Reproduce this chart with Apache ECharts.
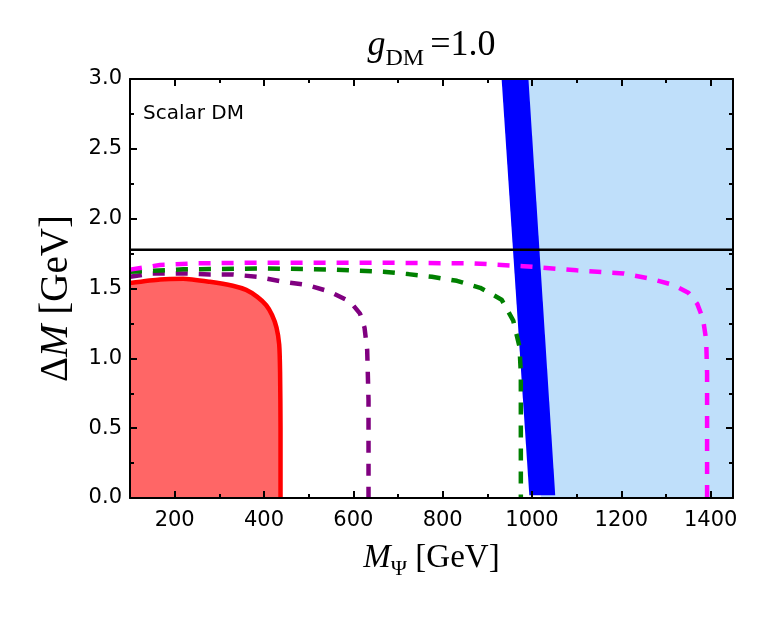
<!DOCTYPE html>
<html>
<head>
<meta charset="utf-8">
<script src="https://cdn.jsdelivr.net/npm/echarts@6/dist/echarts.min.js"></script>
<style>
  html, body { margin: 0; padding: 0; background: #fff; }
  #chart { width: 769px; height: 619px; }
</style>
</head>
<body>
<div id="chart"></div>
<script>
  // 曲线数据 [M_Psi (GeV), ΔM (GeV)]
  const redLimit = [[100, 1.54], [167, 1.565], [219, 1.57], [279, 1.548], [330, 1.52], [360, 1.49], [385, 1.44], [405, 1.38], [418, 1.31], [428, 1.22], [434, 1.1], [436, 0.9], [437, 0.5], [437, 0]];
  const purpleCurve = [[100, 1.584], [149, 1.608], [219, 1.608], [279, 1.60], [331, 1.60], [384, 1.584], [443, 1.548], [496, 1.525], [548, 1.477], [593, 1.405], [615, 1.32], [625, 1.22], [631, 1.06], [634, 0.7], [634, 0]];
  const greenCurve = [[100, 1.62], [219, 1.637], [406, 1.644], [560, 1.635], [667, 1.62], [723, 1.603], [776, 1.584], [832, 1.555], [884, 1.505], [932, 1.42], [958, 1.27], [972, 1.083], [975, 0.89], [975, 0]];
  const magentaCurve = [[100, 1.635], [167, 1.668], [250, 1.68], [369, 1.684], [689, 1.684], [868, 1.68], [981, 1.66], [1100, 1.63], [1205, 1.608], [1265, 1.57], [1317, 1.525], [1350, 1.47], [1370, 1.39], [1383, 1.28], [1390, 1.13], [1392, 0.89], [1392, 0]];
  const tauLine = [[100, 1.777], [1450, 1.777]];
  // 多边形区域
  const lightBlueRegion = [[960, 3], [1450, 3], [1450, 0], [1020, 0]];
  const blueBand = [[932, 3], [992, 3], [1052, 0.02], [994, 0.02]];

  const black = '#000';
  const tickFont = { color: black, fontFamily: 'DejaVu Sans', fontSize: 21 };
  const serif = 'Liberation Serif';
  const tickLine = { color: black, width: 2 };

  function polygon(points, color) {
    return {
      type: 'custom',
      silent: true,
      data: [points[0]],
      renderItem: function (params, api) {
        return {
          type: 'polygon',
          shape: { points: points.map(function (p) { return api.coord(p); }) },
          style: { fill: color }
        };
      }
    };
  }

  function dashed(data, color) {
    return {
      type: 'line',
      data: data,
      symbol: 'none',
      lineStyle: { color: color, width: 4.5, type: [12, 11], cap: 'butt' },
      z: 5
    };
  }

  // x轴: 不设interval, splitNumber 7 -> 间隔200
  function xAxisCfg(pos, withLabel) {
    return {
      type: 'value',
      position: pos,
      z: 10,
      min: 100,
      max: 1450,
      splitNumber: 7,
      axisLine: { show: true, onZero: false, lineStyle: { color: black, width: 2 } },
      axisTick: { show: true, inside: true, length: 7, lineStyle: tickLine },
      minorTick: { show: true, splitNumber: 2, length: 4, lineStyle: tickLine },
      axisLabel: withLabel ? Object.assign({
        margin: 12,
        showMinLabel: false,
        showMaxLabel: false,
        formatter: function (v) { return v % 200 === 0 ? String(v) : ''; }
      }, tickFont) : { show: false },
      splitLine: { show: false }
    };
  }

  function yAxisCfg(pos, withLabel) {
    return {
      type: 'value',
      position: pos,
      z: 10,
      min: 0,
      max: 3,
      interval: 0.5,
      axisLine: { show: true, lineStyle: { color: black, width: 2 } },
      axisTick: { show: true, inside: true, length: 7, lineStyle: tickLine },
      minorTick: { show: true, splitNumber: 2, length: 4, lineStyle: tickLine },
      axisLabel: withLabel ? Object.assign({ margin: 8, formatter: function (v) { return v.toFixed(1); } }, tickFont) : { show: false },
      splitLine: { show: false }
    };
  }

  const xBottom = xAxisCfg('bottom', true);
  xBottom.name = '{i|M}{sub|Ψ}{n| [GeV]}';
  xBottom.nameLocation = 'middle';
  xBottom.nameGap = 44;
  xBottom.nameTextStyle = {
    rich: {
      i: { fontFamily: serif, fontStyle: 'italic', fontSize: 33, color: black, verticalAlign: 'bottom', padding: [0, 0, 5, 0] },
      sub: { fontFamily: serif, fontSize: 22, color: black, verticalAlign: 'bottom' },
      n: { fontFamily: serif, fontSize: 33, color: black, verticalAlign: 'bottom', padding: [0, 0, 5, 0] }
    }
  };

  const xTop = xAxisCfg('top', false);
  xTop.name = '{i|g}{sub|DM}{n|=1.0}';
  xTop.nameLocation = 'middle';
  xTop.nameGap = 8;
  xTop.nameTextStyle = {
    rich: {
      i: { fontFamily: serif, fontStyle: 'italic', fontSize: 36, color: black, verticalAlign: 'bottom', padding: [0, 0, 7, 0] },
      sub: { fontFamily: serif, fontSize: 24, color: black, verticalAlign: 'bottom', padding: [0, 6, 0, 0] },
      n: { fontFamily: serif, fontSize: 36, color: black, verticalAlign: 'bottom', padding: [0, 0, 7, 0] }
    }
  };

  const yLeft = yAxisCfg('left', true);
  yLeft.name = '{d|Δ}{i|M}{n| [GeV]}';
  yLeft.nameLocation = 'middle';
  yLeft.nameRotate = 90;
  yLeft.nameGap = 54;
  yLeft.nameTextStyle = {
    rich: {
      d: { fontFamily: serif, fontSize: 39, color: black },
      i: { fontFamily: serif, fontStyle: 'italic', fontSize: 39, color: black },
      n: { fontFamily: serif, fontSize: 39, color: black, padding: [0, 20, 0, 0] }
    }
  };

  const option = {
    animation: false,
    backgroundColor: '#fff',
    grid: { left: 130, right: 36, top: 79, bottom: 121 },
    xAxis: [xBottom, xTop],
    yAxis: [yLeft, yAxisCfg('right', false)],
    graphic: [{
      type: 'text',
      left: 143,
      top: 104,
      style: { text: 'Scalar DM', fontFamily: 'DejaVu Sans', fontSize: 20, fill: black }
    }],
    series: [
      polygon(lightBlueRegion, '#BFDFFA'),
      polygon(blueBand, '#0000FF'),
      {
        type: 'line',
        data: redLimit,
        symbol: 'none',
        smooth: 0.2,
        lineStyle: { color: '#FF0000', width: 4.5 },
        areaStyle: { color: '#FF6666', opacity: 1 },
        z: 4
      },
      dashed(purpleCurve, '#800080'),
      dashed(greenCurve, '#008000'),
      dashed(magentaCurve, '#FF00FF'),
      {
        type: 'line',
        data: tauLine,
        symbol: 'none',
        lineStyle: { color: black, width: 2.5 },
        z: 6
      }
    ]
  };

  const chartObj = echarts.init(document.getElementById('chart'));
  chartObj.setOption(option, true);
</script>
</body>
</html>
